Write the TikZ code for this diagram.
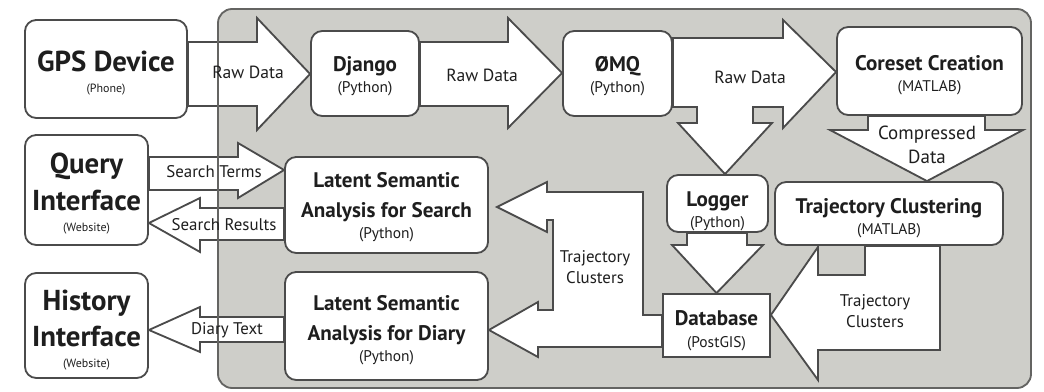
\documentclass[tikz,border=0pt]{standalone}
\usepackage{fontspec}
\setmainfont{PT Sans}
\usetikzlibrary{positioning}
\definecolor{panelgray}{RGB}{206,206,201}
\definecolor{rimgray}{RGB}{100,100,98}
\definecolor{edgegray}{RGB}{75,75,75}
\definecolor{txtgray}{RGB}{30,30,30}
\pgfdeclarelayer{back}
\pgfdeclarelayer{flow}
\pgfdeclarelayer{rim}
\pgfsetlayers{back,flow,rim,main}
\newcommand{\hdr}{\fontsize{20.5}{21}\selectfont\bfseries}
\newcommand{\mdf}{\fontsize{15}{17}\selectfont\bfseries}
\newcommand{\lbl}{\fontsize{12.5}{14}\selectfont}
\newcommand{\sml}{\fontsize{11}{12}\selectfont}
\newcommand{\tny}{\fontsize{8.5}{9}\selectfont}
\newcommand{\topgap}[1]{\rule{0pt}{#1}}

\begin{document}
\begin{tikzpicture}[x=0.025cm, y=-0.025cm,
    box/.style={draw=edgegray, fill=white, line width=1.3pt, rounded corners=8pt,
      align=center, inner sep=0pt, text=txtgray, font=\fontsize{10}{15}\selectfont},
    flowarrow/.style={draw=edgegray, fill=white, line width=1.3pt, line join=miter},
    tag/.style={text=txtgray, align=center, inner sep=0pt, font=\lbl}]
    \useasboundingbox (0,0) rectangle (1044,392);

    % the server side panel
    \begin{pgfonlayer}{back}
      \fill[panelgray, rounded corners=10pt] (218,9) rectangle (1031,388);
    \end{pgfonlayer}
    \begin{pgfonlayer}{rim}
      \draw[rimgray, line width=1.3pt, rounded corners=10pt] (218,9) rectangle (1031,388);
    \end{pgfonlayer}

    % clients
    \node[box, minimum width=4.05cm, minimum height=2.45cm] (gps) at (106,69)
      {{\hdr\topgap{21pt}GPS Device}\\{\tny (Phone)}};
    \node[box, minimum width=3.075cm, minimum height=2.75cm] (query) at (86.5,190)
      {{\hdr\topgap{20pt}Query}\\[6pt]{\hdr Interface}\\{\tny (Website)}};
    \node[box, minimum width=3.075cm, minimum height=2.625cm] (history) at (86.5,325.5)
      {{\hdr\topgap{21.5pt}History}\\[6pt]{\hdr Interface}\\{\tny (Website)}};

    % server components
    \node[box, minimum width=2.7cm, minimum height=2.125cm] (django) at (365,73.5)
      {{\mdf\topgap{15pt}Django}\\{\sml (Python)}};
    \node[box, minimum width=2.725cm, minimum height=2.125cm] (zmq) at (617.5,73.5)
      {{\mdf\topgap{15pt}ØMQ}\\{\sml (Python)}};
    \node[box, minimum width=4.625cm, minimum height=2.2cm] (coreset) at (929.5,71)
      {{\mdf\topgap{16.5pt}Coreset Creation}\\{\sml (MATLAB)}};
    \node[box, minimum width=2.525cm, minimum height=1.425cm] (logger) at (717.5,203.5)
      {{\mdf\topgap{22pt}Logger}\\{\sml (Python)}};
    \node[box, rounded corners=0pt, minimum width=2.675cm, minimum height=1.575cm] (database) at (716.5,325.5)
      {{\mdf\topgap{18pt}Database}\\{\sml (PostGIS)}};
    \node[box, minimum width=5.7cm, minimum height=1.575cm] (traj) at (889,213.5)
      {{\mdf\topgap{18pt}Trajectory Clustering}\\{\sml (MATLAB)}};
    \node[box, minimum width=5.075cm, minimum height=2.4cm] (lsasearch) at (386.5,205)
      {{\mdf\topgap{13.6pt}Latent Semantic}\\[6pt]{\mdf Analysis for Search}\\{\sml (Python)}};
    \node[box, minimum width=5.075cm, minimum height=2.7cm] (lsadiary) at (386.5,326)
      {{\mdf\topgap{16.5pt}Latent Semantic}\\[6pt]{\mdf Analysis for Diary}\\{\sml (Python)}};

    % block arrows
    \begin{pgfonlayer}{flow}
      \draw[flowarrow] (gps.east |- 0,42) -- (257,42) -- (257,18) -- (django.west |- 0,74)
        -- (257,130) -- (257,106) -- (gps.east |- 0,106) -- cycle;
      \draw[flowarrow] (django.east |- 0,42) -- (508,42) -- (508,18) -- (zmq.west |- 0,73)
        -- (508,128) -- (508,106) -- (django.east |- 0,106) -- cycle;
      \draw[flowarrow] (zmq.east |- 0,38) -- (783,38) -- (783,20) -- (coreset.west |- 0,72)
        -- (783,128) -- (783,107) -- (753,107) -- (753,123) -- (772,123)
        -- (logger.north -| 725,0) -- (678,123) -- (697,123) -- (697,107)
        -- (zmq.east |- 0,107) -- cycle;
      \draw[flowarrow] (868,0 |- coreset.south) -- (985,0 |- coreset.south) -- (985,130)
        -- (1023,130) -- (traj.north -| 927,0) -- (830,130) -- (868,130) -- cycle;
      \draw[flowarrow] (687,0 |- logger.south) -- (747,0 |- logger.south) -- (747,245)
        -- (763,245) -- (database.north) -- (672,245) -- (687,245) -- cycle;
      \draw[flowarrow] (865,0 |- traj.south) -- (940,0 |- traj.south) -- (940,350) -- (818,350)
        -- (818,380) -- (database.east |- 0,315) -- (818,247) -- (818,275) -- (865,275) -- cycle;
      \draw[flowarrow] (database.west |- 0,315) -- (643,315) -- (643,192) -- (547,192) -- (547,182)
        -- (497,207) -- (547,232) -- (547,220) -- (553,220) -- (553,310) -- (538,310)
        -- (538,302) -- (lsadiary.east |- 0,330) -- (538,357) -- (538,347)
        -- (database.west |- 0,347) -- cycle;
      \draw[flowarrow] (query.east |- 0,157) -- (238,157) -- (238,143) -- (lsasearch.west |- 0,170)
        -- (238,198) -- (238,190) -- (query.east |- 0,190) -- cycle;
      \draw[flowarrow] (lsasearch.west |- 0,208) -- (200,208) -- (200,198) -- (query.east |- 0,223)
        -- (200,252) -- (200,240) -- (lsasearch.west |- 0,240) -- cycle;
      \draw[flowarrow] (lsadiary.west |- 0,317) -- (200,317) -- (200,307) -- (history.east |- 0,330)
        -- (200,352) -- (200,342) -- (lsadiary.west |- 0,342) -- cycle;
    \end{pgfonlayer}

    % arrow labels
    \node[tag] (rawa) at (248,72) {Raw Data};
    \node[tag] (rawb) at (482,75) {Raw Data};
    \node[tag] (rawc) at (750,77) {Raw Data};
    \node[tag, font=\fontsize{13.5}{17}\selectfont] (compressed) at (927,145) {Compressed\\Data};
    \node[tag, font=\fontsize{12}{15}\selectfont] (clustersa) at (595,267.5) {Trajectory\\Clusters};
    \node[tag, font=\fontsize{12}{15}\selectfont] (clustersb) at (875,311) {Trajectory\\Clusters};
    \node[tag, font=\fontsize{12}{14}\selectfont] (terms) at (214,172) {Search Terms};
    \node[tag, font=\fontsize{12}{14}\selectfont] (results) at (224,225) {Search Results};
    \node[tag, font=\fontsize{12}{14}\selectfont] (diarytext) at (227,330) {Diary Text};
\end{tikzpicture}
\end{document}
